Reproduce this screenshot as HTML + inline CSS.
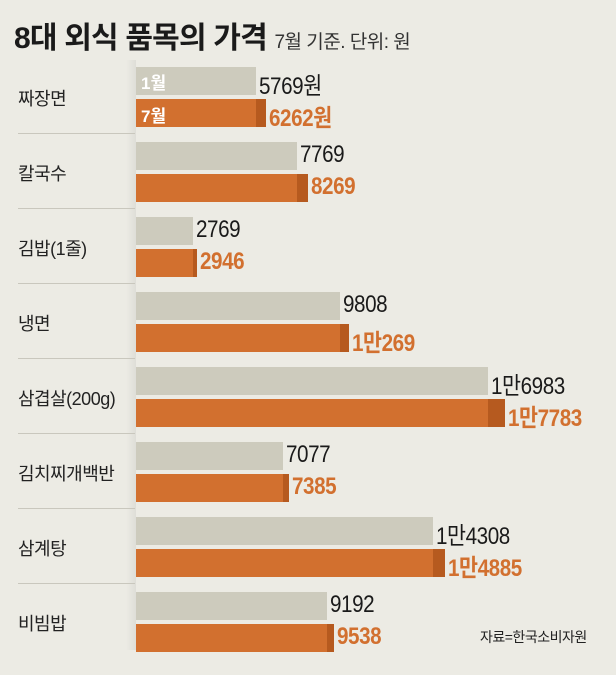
<!DOCTYPE html>
<html><head><meta charset="utf-8"><style>
*{margin:0;padding:0}
body{width:616px;height:675px;background:#ecebe4;position:relative;overflow:hidden;font-family:"Liberation Sans","Noto Sans CJK KR",sans-serif}
.a{position:absolute;white-space:nowrap}
.t{left:14px;top:13px;font-size:30px;font-weight:bold;color:#1a1a1a;letter-spacing:-0.8px}
.st{font-size:19px;font-weight:normal;color:#333;letter-spacing:-0.5px}
.lab{left:18px;font-size:18px;color:#222;letter-spacing:-0.5px}
.sep{left:18px;width:117px;height:1px;background:#c9c7bd}
.g{left:136px;height:28px;background:#cdcbbd}
.o{left:136px;height:28px;background:#d2702f}
.d{height:28px;background:#b65a1f}
.gv,.ov{font-size:24px;letter-spacing:-0.5px;transform:scaleX(0.86);transform-origin:0 0}
.gv{color:#1a1a1a}
.ov{color:#d2702f;font-weight:bold}
.shade{left:126px;top:60px;width:10px;height:590px;background:linear-gradient(to right,rgba(0,0,0,0),rgba(0,0,0,0.06))}
.in{font-size:17px;font-weight:bold;color:#fff}
</style></head><body>
<div class="a t">8대 외식 품목의 가격 <span class="st">7월 기준. 단위: 원</span></div>
<div class="a shade"></div>
<div id="c"></div>
<div class="a" style="left:480px;top:627px;font-size:14px;color:#222;letter-spacing:-0.5px">자료=한국소비자원</div>
<script>
var L=["짜장면","칼국수","김밥(1줄)","냉면","삼겹살(200g)","김치찌개백반","삼계탕","비빔밥"];
var G=[5769,7769,2769,9808,16983,7077,14308,9192];
var O=[6262,8269,2946,10269,17783,7385,14885,9538];
function f(v){return v>=10000?"1만"+(v-10000):""+v;}
var s=0.02075,h="";
for(var i=0;i<8;i++){
 var y=67+75*i,gw=Math.round(G[i]*s),ow=Math.round(O[i]*s);
 h+='<div class="a lab" style="top:'+(y+18)+'px">'+L[i]+'</div>';
 if(i>0)h+='<div class="a sep" style="top:'+(y-9)+'px"></div>';
 h+='<div class="a g" style="top:'+y+'px;width:'+gw+'px"></div>';
 h+='<div class="a o" style="top:'+(y+32)+'px;width:'+ow+'px"></div>';
 h+='<div class="a d" style="top:'+(y+32)+'px;left:'+(136+gw)+'px;width:'+(ow-gw)+'px"></div>';
 h+='<div class="a gv" style="top:'+(y-1)+'px;left:'+(139+gw)+'px">'+f(G[i])+(i==0?'원':'')+'</div>';
 h+='<div class="a ov" style="top:'+(y+31)+'px;left:'+(139+ow)+'px">'+f(O[i])+(i==0?'원':'')+'</div>';
}
h+='<div class="a in" style="left:141px;top:69px">1월</div><div class="a in" style="left:141px;top:102px">7월</div>';
document.getElementById("c").innerHTML=h;
</script>
</body></html>
